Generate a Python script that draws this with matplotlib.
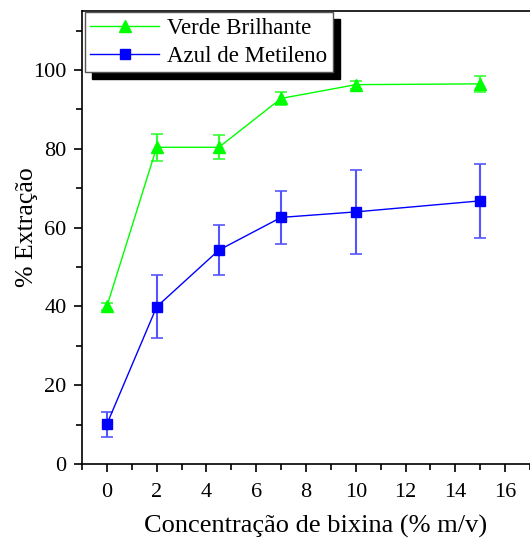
import numpy as np
import matplotlib
matplotlib.use('Agg')
import matplotlib.pyplot as plt
from matplotlib.ticker import MultipleLocator

# 设置全局字体
plt.rcParams['font.family'] = ['Liberation Serif', 'DejaVu Serif']

# 数据
conc = [0, 2, 4.5, 7, 10, 15]
verde = [40.0, 80.4, 80.4, 92.8, 96.3, 96.5]
verde_err = [0.8, 3.4, 3.0, 1.6, 1.0, 2.0]
azul = [10.1, 39.9, 54.3, 62.6, 64.0, 66.8]
azul_err = [3.2, 8.0, 6.4, 6.7, 10.7, 9.4]

fig = plt.figure(figsize=(5.3, 5.41), dpi=100)
ax = fig.add_axes([0.1547, 0.1423, 0.8453, 0.8374])

# 误差棒
ax.errorbar(conc, verde, yerr=verde_err, fmt='none', ecolor='#33ff33',
            elinewidth=1.5, capsize=4, capthick=1.2)
ax.errorbar(conc, azul, yerr=azul_err, fmt='none', ecolor='#5555ff',
            elinewidth=1.5, capsize=4, capthick=1.2)
# 曲线
ax.plot(conc, verde, color='#00ff00', lw=1, marker='^', ms=9, label='Verde Brilhante')
ax.plot(conc, azul, color='#0000ff', lw=1, marker='s', ms=7.5, label='Azul de Metileno')

# 坐标轴范围和刻度
ax.set_xlim(-1, 17)
ax.set_ylim(0, 115)
ax.xaxis.set_major_locator(MultipleLocator(2))
ax.xaxis.set_minor_locator(MultipleLocator(1))
ax.yaxis.set_major_locator(MultipleLocator(20))
ax.yaxis.set_minor_locator(MultipleLocator(10))
ax.set_xticks(np.arange(0, 17, 2))
ax.set_yticks(np.arange(0, 101, 20))
ax.tick_params(which='both', direction='out', top=False, right=False, labelsize=16, width=1.2)
ax.tick_params(which='major', length=6)
ax.tick_params(which='minor', length=4)
ax.tick_params(axis='x', which='major', pad=8)
ax.tick_params(axis='y', which='major', pad=5)
ax.spines['right'].set_visible(False)
for s in ['left', 'bottom', 'top']:
    ax.spines[s].set_linewidth(1.2)

ax.set_xlabel('Concentração de bixina (% m/v)', fontsize=19)
ax.xaxis.set_label_coords(0.522, -0.113)
ax.set_ylabel('% Extração', fontsize=18.5)
ax.yaxis.set_label_coords(-0.099, 0.523)

# 图例
leg = ax.legend(loc='upper left', bbox_to_anchor=(0.006, 0.998), fontsize=16.5,
                frameon=True, fancybox=False, edgecolor='#555555', framealpha=1,
                shadow={'color': 'black', 'alpha': 1, 'ox': 5, 'oy': -5},
                handlelength=3.0, borderpad=0.25, labelspacing=0.3, handletextpad=0.35,
                borderaxespad=0)
leg.get_frame().set_linewidth(1)

fig.savefig('out.png', format='png', facecolor='white')
